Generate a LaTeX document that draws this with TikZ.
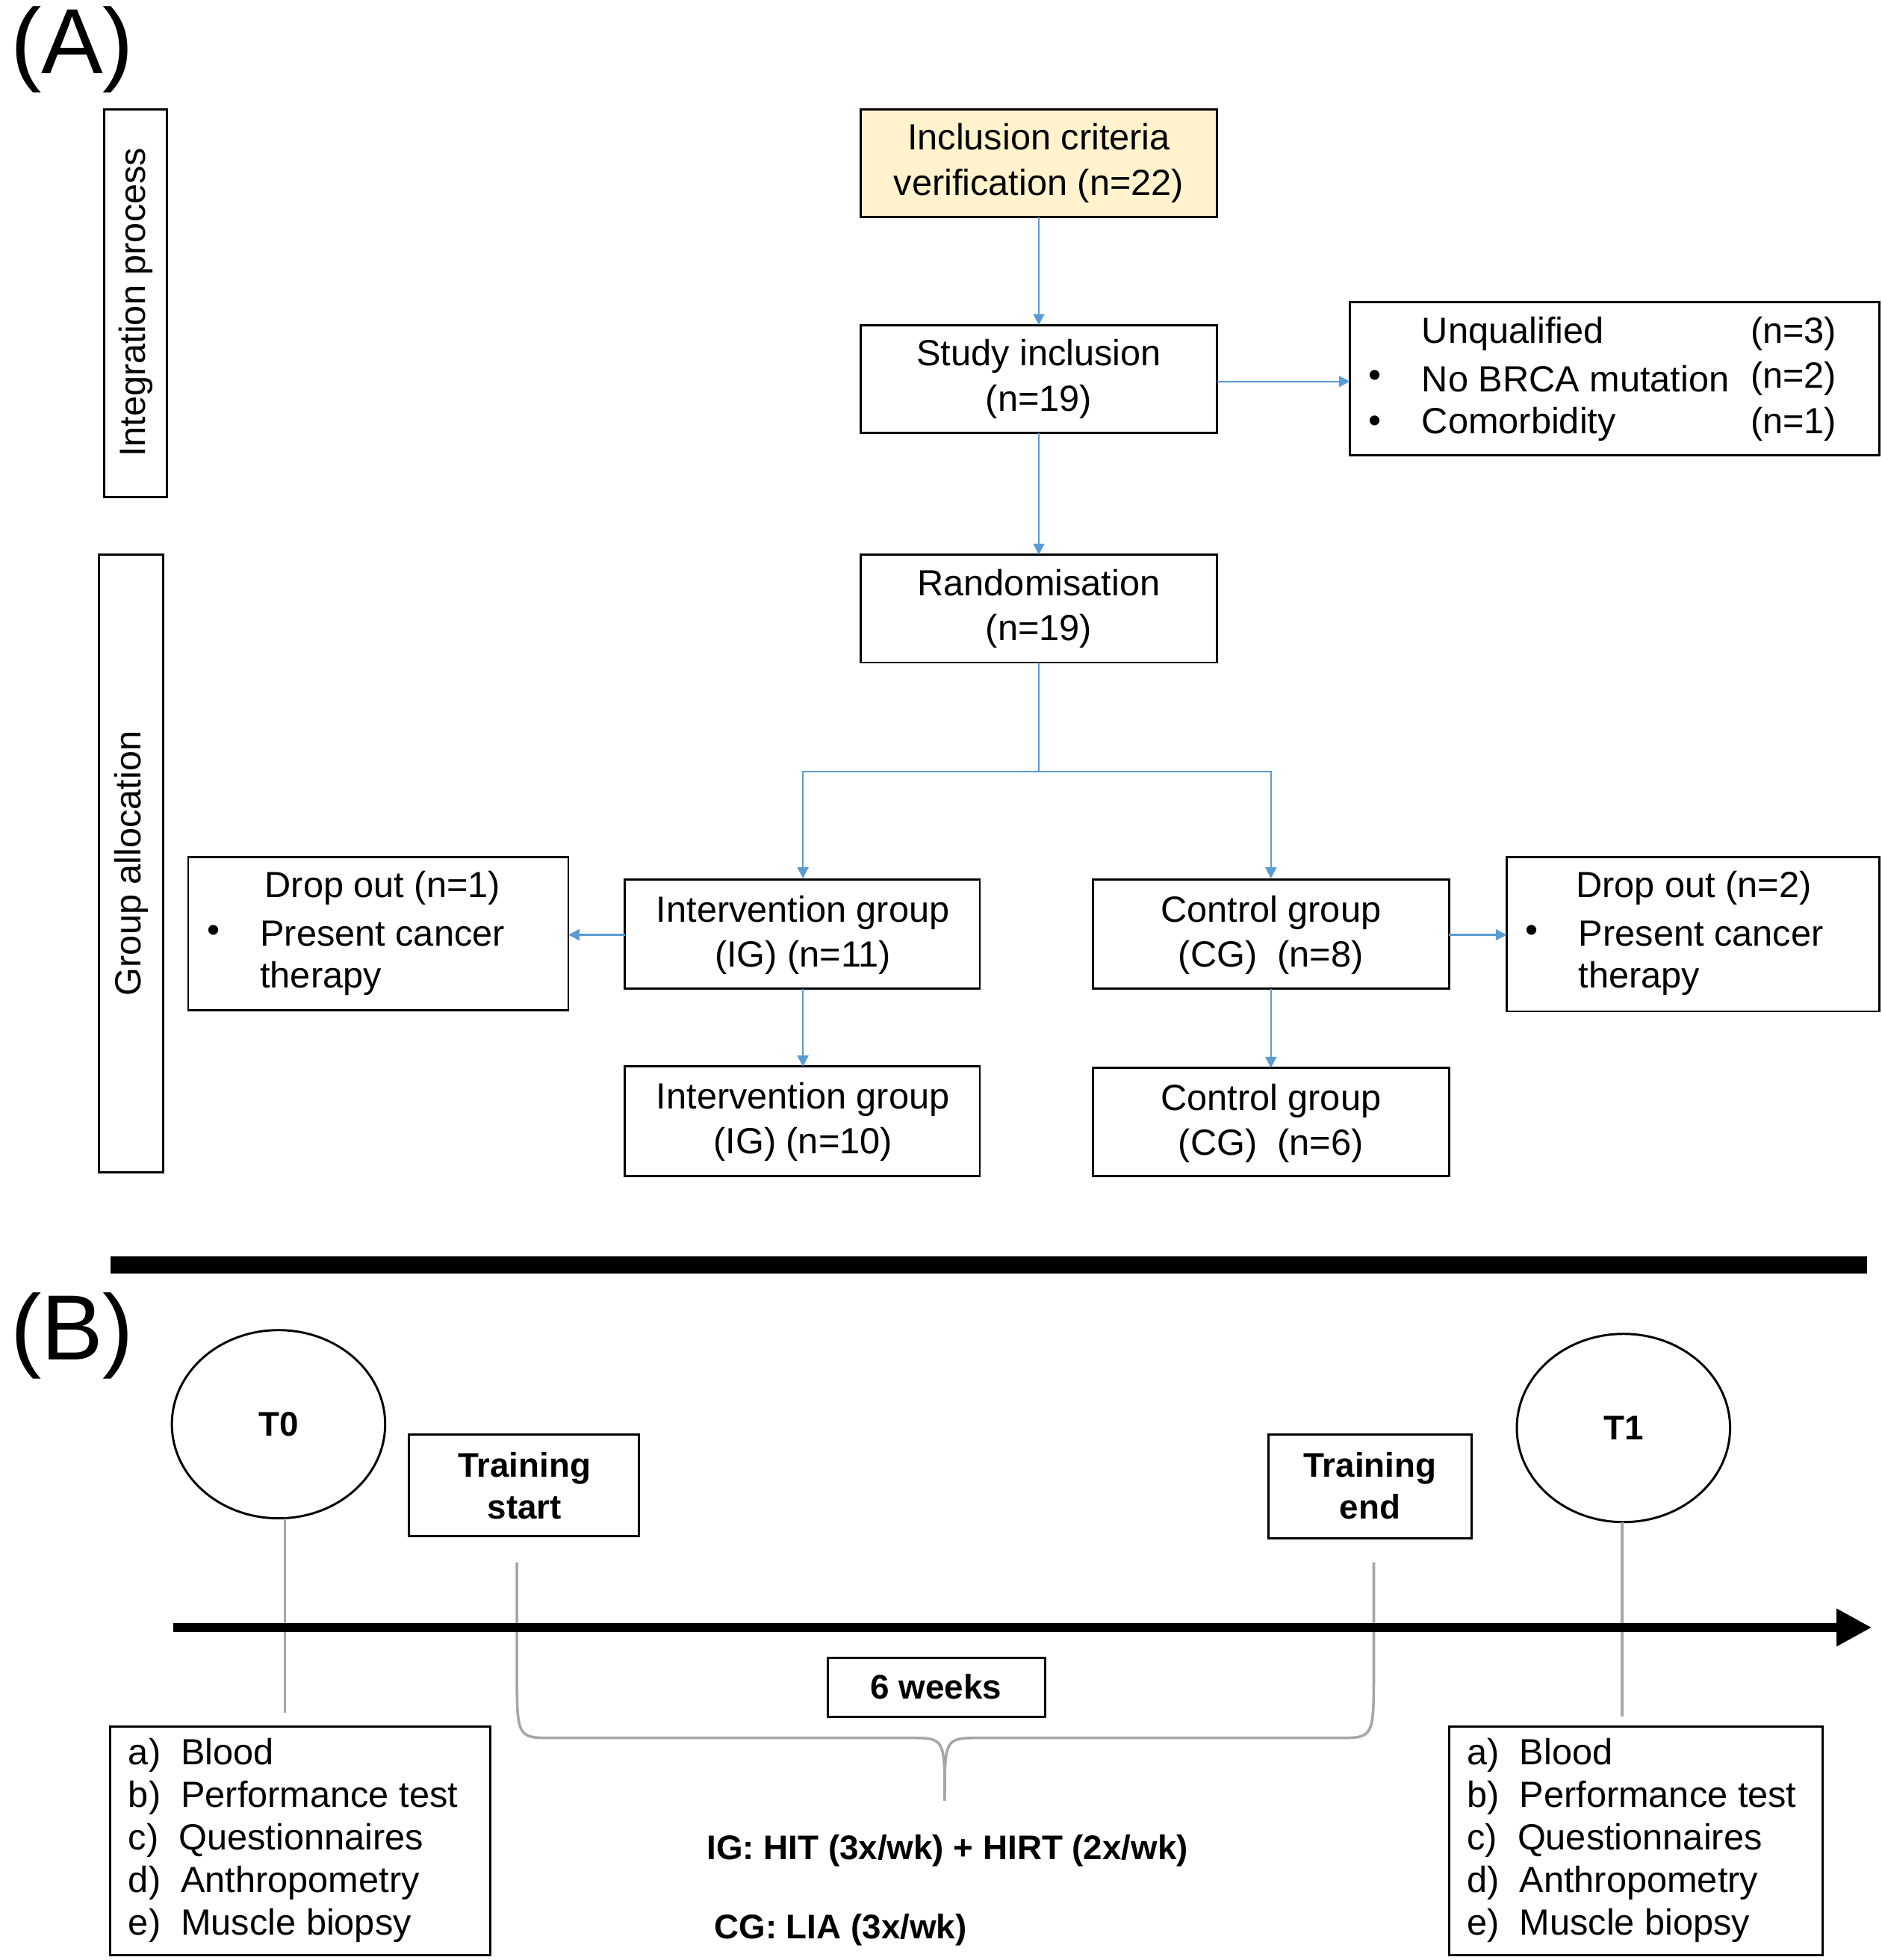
\documentclass[tikz,border=0pt]{standalone}
\usepackage{fontspec}
\setmainfont{Liberation Sans}
\usetikzlibrary{arrows.meta}
\definecolor{blu}{HTML}{5B9BD5}
\definecolor{yel}{HTML}{FFF2CC}
\begin{document}
\begin{tikzpicture}[x=0.02cm,y=-0.02cm,
 box/.style={draw=black,line width=1pt,inner sep=0pt},
 txt/.style={font=\fontsize{16.5}{20.4}\selectfont,align=center,inner sep=0pt},
 bt/.style={font=\bfseries\fontsize{15.5}{19}\selectfont,align=center,inner sep=0pt},
 con/.style={draw=blu,line width=0.8pt,-{Triangle[length=5pt,width=5pt]}},
 gl/.style={draw=gray!70,line width=1.2pt}]
\useasboundingbox (0,0) rectangle (1500,1562);
\node[anchor=north west,font=\fontsize{42}{46}\selectfont,inner sep=0pt] (la) at (8,5) {(A)};
\node[anchor=north west,font=\fontsize{42}{46}\selectfont,inner sep=0pt] (lb) at (8,1030) {(B)};
% side boxes
\draw[line width=1pt] (83,87) rectangle (133,396);
\node[txt,rotate=90] (ip) at (108,241) {Integration process};
\draw[line width=1pt] (79,442) rectangle (130,934);
\node[txt,rotate=90] (ga) at (105,688) {Group allocation};
% boxes
\draw[line width=1pt,fill=yel] (686,87) rectangle (970,173);
\node[txt] (inc) at (828,130) {Inclusion criteria\\verification (n=22)};
\draw[line width=1pt] (686,259) rectangle (970,345);
\node[txt] (si) at (828,302) {Study inclusion\\(n=19)};
\draw[line width=1pt] (1076,241) rectangle (1498,363);
\node[txt,anchor=west] (u1) at (1133,266) {Unqualified};
\node[txt,anchor=west] (u2) at (1133,302) {No BRCA mutation};
\node[txt,anchor=west] (u3) at (1133,338) {Comorbidity};
\node[txt,anchor=west] (n1) at (1395,266) {(n=3)};
\node[txt,anchor=west] (n2) at (1395,302) {(n=2)};
\node[txt,anchor=west] (n3) at (1395,338) {(n=1)};
\node[txt] (b1) at (1096,302) {•};
\node[txt] (b2) at (1096,338) {•};
\draw[line width=1pt] (686,442) rectangle (970,528);
\node[txt] (ra) at (828,485) {Randomisation\\(n=19)};
\draw[line width=1pt] (498,701) rectangle (781,788);
\node[txt] (ig) at (640,745) {Intervention group\\(IG) (n=11)};
\draw[line width=1pt] (871,701) rectangle (1155,788);
\node[txt] (cg) at (1013,745) {Control group\\(CG)\ \ (n=8)};
\draw[line width=1pt] (498,850) rectangle (781,937);
\node[txt] (ig2) at (640,894) {Intervention group\\(IG) (n=10)};
\draw[line width=1pt] (871,851) rectangle (1155,937);
\node[txt] (cg2) at (1013,895) {Control group\\(CG)\ \ (n=6)};
\draw[line width=1pt] (150,683) rectangle (453,805);
\node[txt] (d1) at (305,708) {Drop out (n=1)};
\node[txt,anchor=west] (d1b) at (207,744) {Present cancer};
\node[txt,anchor=west] (d1c) at (207,780) {therapy};
\node[txt] (d1d) at (170,744) {•};
\draw[line width=1pt] (1201,683) rectangle (1498,806);
\node[txt] (d2) at (1350,708) {Drop out (n=2)};
\node[txt,anchor=west] (d2b) at (1258,744) {Present cancer};
\node[txt,anchor=west] (d2c) at (1258,780) {therapy};
\node[txt] (d2d) at (1221,744) {•};
% connectors
\coordinate (i1) at (828,173); \coordinate (i2) at (828,259);
\draw[con] (i1) -- (i2);
\coordinate (s1) at (828,345); \coordinate (s2) at (828,442);
\draw[con] (s1) -- (s2);
\coordinate (s3) at (970,304); \coordinate (s4) at (1076,304);
\draw[con] (s3) -- (s4);
\coordinate (r1) at (828,528);
\coordinate (g1) at (640,700); \coordinate (g2) at (1013,700);
\draw[con] (r1) -- (828,615) -| (g1);
\draw[con] (828,615) -| (g2);
\coordinate (ia) at (640,788); \coordinate (ib) at (640,850);
\draw[con] (ia) -- (ib);
\coordinate (ca) at (1013,788); \coordinate (cb) at (1013,851);
\draw[con] (ca) -- (cb);
\coordinate (il) at (498,745); \coordinate (dl) at (453,745);
\draw[con] (il) -- (dl);
\coordinate (cr) at (1155,745); \coordinate (dr) at (1201,745);
\draw[con] (cr) -- (dr);
% bar
\fill (88,1001) rectangle (1488,1015);
% B part
\draw[line width=1pt] (222,1135) ellipse [x radius=85, y radius=75];
\node[bt] (t0) at (222,1135) {T0};
\draw[line width=1pt] (1294,1138) ellipse [x radius=85, y radius=75];
\node[bt] (t1) at (1294,1138) {T1};
\draw[line width=1pt] (326,1143) rectangle (509,1224);
\node[bt] (ts) at (418,1184) {Training\\start};
\draw[line width=1pt] (1011,1143) rectangle (1173,1226);
\node[bt] (te) at (1092,1184) {Training\\end};
\draw[gl] (227,1210) -- (227,1365);
\draw[gl] (1293,1213) -- (1293,1368);
\draw[gl] (412,1245) -- (412,1330) .. controls (412,1385) .. (440,1385) -- (725,1385) .. controls (753,1385) .. (753,1435);
\draw[gl] (1095,1245) -- (1095,1330) .. controls (1095,1385) .. (1067,1385) -- (781,1385) .. controls (753,1385) .. (753,1435);
\coordinate (ax1) at (138,1297); \coordinate (ax2) at (1492,1297);
\draw[line width=4pt,-{Triangle[length=16pt,width=16pt]}] (ax1) -- (ax2);
\draw[line width=1pt] (660,1321) rectangle (833,1368);
\node[bt] (sw) at (746,1344) {6 weeks};
\draw[line width=1pt] (88,1376) rectangle (391,1558);
\node[txt,anchor=north west,align=left,font=\fontsize{16.5}{19.3}\selectfont] (l1) at (102,1385) {a)\ \ Blood\\b)\ \ Performance test\\c)\ \ Questionnaires\\d)\ \ Anthropometry\\e)\ \ Muscle biopsy};
\draw[line width=1pt] (1155,1376) rectangle (1453,1558);
\node[txt,anchor=north west,align=left,font=\fontsize{16.5}{19.3}\selectfont] (l2) at (1169,1385) {a)\ \ Blood\\b)\ \ Performance test\\c)\ \ Questionnaires\\d)\ \ Anthropometry\\e)\ \ Muscle biopsy};
\node[bt,anchor=west] (igt) at (563,1475) {IG: HIT (3x/wk) + HIRT (2x/wk)};
\node[bt,anchor=west] (cgt) at (569,1538) {CG: LIA (3x/wk)};
\end{tikzpicture}
\end{document}
